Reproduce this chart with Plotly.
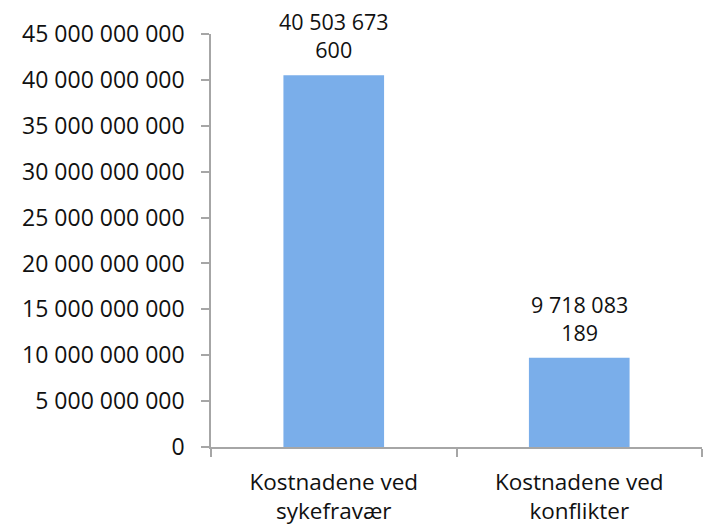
import plotly.graph_objects as go

categories = ["Kostnadene ved<br>sykefravær", "Kostnadene ved<br>konflikter"]
values = [40503673600, 9718083189]
value_labels = ["40 503 673<br>600", "9 718 083<br>189"]
tick_vals = [0, 5e9, 10e9, 15e9, 20e9, 25e9, 30e9, 35e9, 40e9, 45e9]
tick_text = ["0", "5 000 000 000", "10 000 000 000", "15 000 000 000", "20 000 000 000",
             "25 000 000 000", "30 000 000 000", "35 000 000 000", "40 000 000 000", "45 000 000 000"]

FONT = "Open Sans"
AXIS = "#a6a6a6"
TXT = "#111111"

fig = go.Figure()
fig.add_trace(go.Bar(
    x=categories, y=values, width=0.41,
    marker=dict(color="#7aaeea", line=dict(width=0)),
    hoverinfo="skip",
))

for c, v, t in zip(categories, values, value_labels):
    fig.add_annotation(x=c, y=v, text=t, showarrow=False, yanchor="bottom",
                       yshift=9, font=dict(family=FONT, size=21.5, color=TXT))

fig.update_layout(
    width=724, height=526,
    margin=dict(l=203, r=30, t=26, b=87),
    paper_bgcolor="white", plot_bgcolor="white",
    showlegend=False,
    font=dict(family=FONT, color=TXT),
    xaxis=dict(
        type="category", showline=True, linecolor=AXIS, linewidth=1.5,
        ticks="outside", tickson="boundaries", ticklen=8, tickcolor=AXIS, tickwidth=1.5,
        tickfont=dict(family=FONT, size=22.5, color=TXT), showgrid=False,
        ticklabelstandoff=14, automargin=False,
    ),
    yaxis=dict(
        range=[0, 45e9], tickvals=tick_vals, ticktext=tick_text,
        showline=True, linecolor=AXIS, linewidth=1.5,
        ticks="outside", ticklen=8, tickcolor=AXIS, tickwidth=1.5,
        tickfont=dict(family=FONT, size=23, color=TXT),
        showgrid=False, zeroline=False, ticklabelstandoff=12, automargin=False,
    ),
)

fig.write_html("out.html")
